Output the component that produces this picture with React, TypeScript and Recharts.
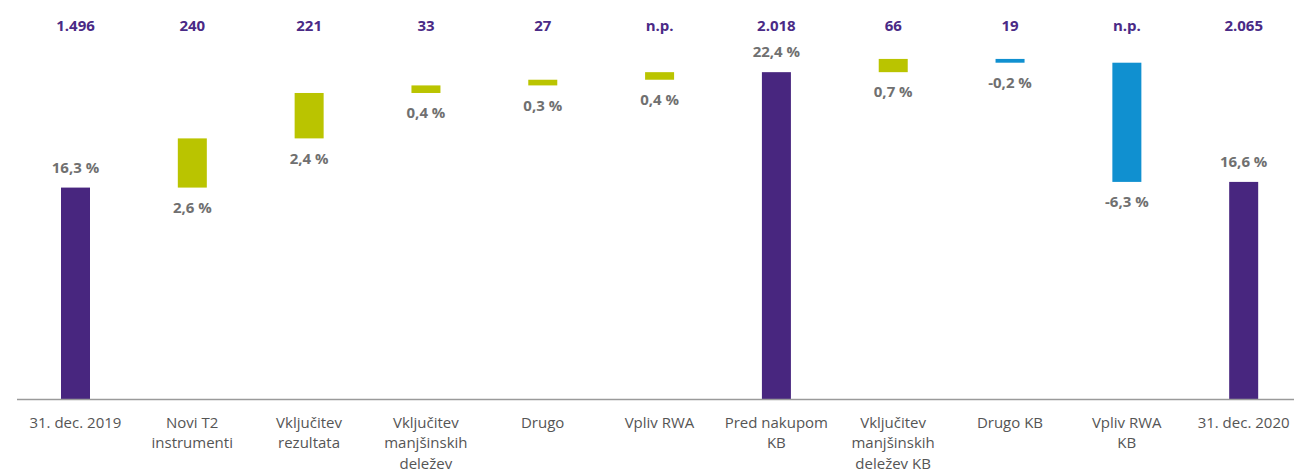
import { BarChart, Bar, XAxis, YAxis, Cell } from "recharts";

const categories = [
    "31. dec. 2019",
    "Novi T2\ninstrumenti",
    "Vključitev\nrezultata",
    "Vključitev\nmanjšinskih\ndeležev",
    "Drugo",
    "Vpliv RWA",
    "Pred nakupom\nKB",
    "Vključitev\nmanjšinskih\ndeležev KB",
    "Drugo KB",
    "Vpliv RWA\nKB",
    "31. dec. 2020",
];

// percent: totals are levels, the rest are changes
const percents = [16.3, 2.6, 2.4, 0.4, 0.3, 0.4, 22.4, 0.7, -0.2, -6.3, 16.6];
const kinds = ["total", "up", "up", "up", "up", "up", "total", "up", "down", "down", "total"];
const amounts = ["1.496", "240", "221", "33", "27", "n.p.", "2.018", "66", "19", "n.p.", "2.065"];

const Y_MIN = 5.1;
const Y_MAX = 24.1;

const COLORS: Record<string, string> = {
    total: "#48267f",
    up: "#bac400",
    down: "#1090d0",
};

const FONT = "'Open Sans', sans-serif";

let level = 0;
const data = categories.map((name, i) => {
    const p = percents[i];
    let range: [number, number];
    if (kinds[i] === "total") {
        range = [Y_MIN, p];
        level = p;
    } else {
        const next = level + p;
        range = [Math.min(level, next), Math.max(level, next)];
        level = next;
    }
    return { name, range, pct: p, amount: amounts[i], kind: kinds[i] };
});

const fmt = (v: number) => v.toFixed(1).replace(".", ",") + " %";

function BarShape(props: any) {
    const { x, y, width, height, fill, payload } = props;
    const cx = x + width / 2;
    const isTotal = payload.kind === "total";
    const labelY = isTotal ? y - 20 : y + height + 20;
    return (
        <g>
            <rect x={x} y={y} width={width} height={height} fill={fill} />
            <text x={cx} y={labelY} dy="0.35em" textAnchor="middle" fill="#707070"
                style={{ fontFamily: FONT, fontSize: 15, fontWeight: 700 }}>
                {fmt(payload.pct)}
            </text>
            <text x={cx} y={18} dy="0.35em" textAnchor="middle" fill="#4a2a86"
                style={{ fontFamily: FONT, fontSize: 15, fontWeight: 700 }}>
                {payload.amount}
            </text>
        </g>
    );
}

function CategoryTick(props: any) {
    const { x, y, payload } = props;
    const lines = String(payload.value).split("\n");
    return (
        <text x={x} y={y} textAnchor="middle" fill="#555555"
            style={{ fontFamily: FONT, fontSize: 15 }}>
            {lines.map((l, i) => (
                <tspan key={i} x={x} dy={i === 0 ? 22 : 20.5}>{l}</tspan>
            ))}
        </text>
    );
}

export default function App() {
    return (
        <BarChart
            width={1294}
            height={463}
            data={data}
            margin={{ top: 32, right: 0, left: 9, bottom: 0 }}
        >
            <XAxis
                dataKey="name"
                height={71.5}
                interval={0}
                tickLine={false}
                tickMargin={0}
                axisLine={{ stroke: "#9a9a9a", strokeWidth: 1.5 }}
                tick={<CategoryTick />}
            />
            <YAxis hide domain={[Y_MIN, Y_MAX]} />
            <Bar dataKey="range" barSize={29} isAnimationActive={false} shape={<BarShape />}>
                {data.map((d, i) => (
                    <Cell key={`cell-${i}`} fill={COLORS[d.kind]} />
                ))}
            </Bar>
        </BarChart>
    );
}
